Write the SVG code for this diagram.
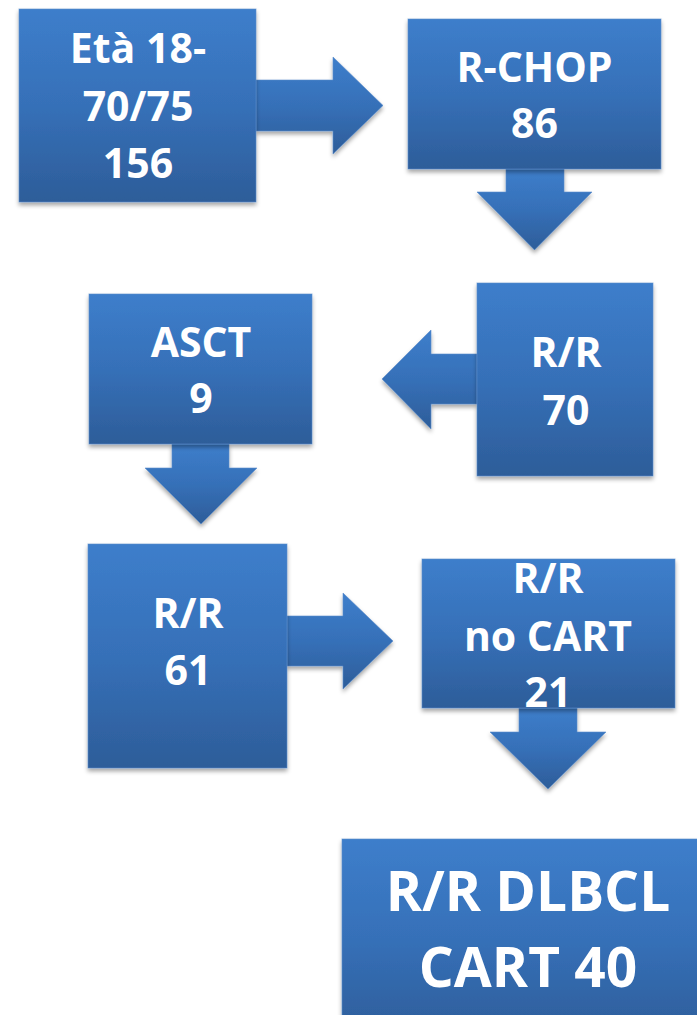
<svg xmlns="http://www.w3.org/2000/svg" width="697" height="1015" viewBox="0 0 697 1015">
<defs>
<linearGradient id="g" x1="0" y1="0" x2="0" y2="1">
<stop offset="0" stop-color="#3d7ecb"/>
<stop offset="0.5" stop-color="#3670b8"/>
<stop offset="1" stop-color="#2d5d99"/>
</linearGradient>
<filter id="sh" x="-10%" y="-10%" width="120%" height="125%">
<feDropShadow dx="0" dy="3" stdDeviation="2.2" flood-color="#000" flood-opacity="0.35"/>
</filter>
</defs>
<style>
.shape{fill:url(#g);stroke:#5a8ccc;stroke-width:1;stroke-opacity:0.6;filter:url(#sh)}
.t{fill:#fff;font-family:"Open Sans","Noto Sans","Liberation Sans",sans-serif;font-weight:bold;font-size:41px;text-anchor:middle}
.big{font-size:55px}
</style>
<rect width="697" height="1015" fill="#fff"/>
<g id="connectors">
<path class="shape" d="M256,80 H333 V57 L383,105.5 L333,154 V131 H256 Z"/>
<path class="shape" d="M506,169 V192 H477 L534.5,250 L592,192 H564 V169 Z"/>
<path class="shape" d="M477,354 H431 V330 L382,379 L431,429 V404 H477 Z"/>
<path class="shape" d="M172,444 V468 H145 L201,524 L257,468 H229 V444 Z"/>
<path class="shape" d="M287,616 H343 V593 L393,641 L343,689 V666 H287 Z"/>
<path class="shape" d="M519,708 V732 H490 L548,789 L606,732 H577 V708 Z"/>
</g>
<g id="n1">
<rect class="shape" x="19" y="9" width="237" height="193"/>
<text class="t" x="138" y="63">Età 18-</text>
<text class="t" x="138" y="121">70/75</text>
<text class="t" x="138" y="178">156</text>
</g>
<g id="n2">
<rect class="shape" x="408" y="19" width="253" height="150"/>
<text class="t" x="534.5" y="82">R-CHOP</text>
<text class="t" x="534.5" y="138">86</text>
</g>
<g id="n3">
<rect class="shape" x="477" y="283" width="176" height="193"/>
<text class="t" x="566" y="367">R/R</text>
<text class="t" x="566" y="425">70</text>
</g>
<g id="n4">
<rect class="shape" x="89" y="294" width="223" height="150"/>
<text class="t" x="201" y="357">ASCT</text>
<text class="t" x="201" y="413">9</text>
</g>
<g id="n5">
<rect class="shape" x="88" y="544" width="199" height="224"/>
<text class="t" x="188" y="628">R/R</text>
<text class="t" x="188" y="685">61</text>
</g>
<g id="n6">
<rect class="shape" x="422" y="559" width="253" height="149"/>
<text class="t" x="548" y="593">R/R</text>
<text class="t" x="548" y="651">no CART</text>
<text class="t" x="548" y="707">21</text>
</g>
<g id="n7">
<rect class="shape" x="342" y="839" width="372" height="200"/>
<text class="t big" x="528" y="911">R/R DLBCL</text>
<text class="t big" x="528" y="987">CART 40</text>
</g>
</svg>
